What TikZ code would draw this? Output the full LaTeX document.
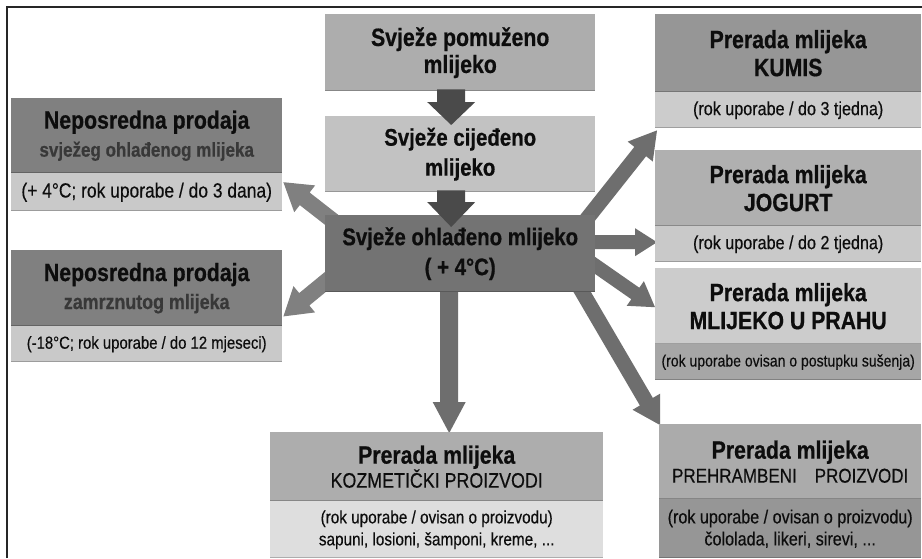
\documentclass[tikz,border=0pt]{standalone}
\usepackage{fontspec}
\setmainfont{Liberation Sans}[FakeStretch=0.85, UprightFeatures={FakeBold=0.35}, BoldFeatures={FakeBold=0.6}]
\usetikzlibrary{calc}
\pgfdeclarelayer{back}
\pgfsetlayers{back,main}
\definecolor{cA}{gray}{0.68}
\definecolor{cB}{gray}{0.76}
\definecolor{cC}{gray}{0.45}
\definecolor{cLh}{gray}{0.50}
\definecolor{cLs}{gray}{0.79}
\definecolor{cR1h}{gray}{0.59}
\definecolor{cR1s}{gray}{0.80}
\definecolor{cR2h}{gray}{0.69}
\definecolor{cR2s}{gray}{0.79}
\definecolor{cR3h}{gray}{0.80}
\definecolor{cR3s}{gray}{0.65}
\definecolor{cR4h}{gray}{0.67}
\definecolor{cR4s}{gray}{0.59}
\definecolor{cKh}{gray}{0.68}
\definecolor{cKs}{gray}{0.87}
\definecolor{cDown}{gray}{0.29}
\definecolor{cArr}{gray}{0.43}
\definecolor{cArrL}{gray}{0.50}
\definecolor{cSubT}{gray}{0.22}
\definecolor{cTxt}{gray}{0.05}
\newcommand{\ttlfont}{\fontsize{25}{28}\selectfont\bfseries}
\newcommand{\ttlfontK}{\fontsize{25}{24}\selectfont\bfseries}
\newcommand{\subfont}{\fontsize{19}{22}\selectfont}
\newcommand{\blkarrow}[6]{%
  \coordinate (bkH) at ($(#3)!#6!(#2)$);
  \fill[#1] ($(#2)!#4!90:(#3)$) -- ($(bkH)!#4!-90:(#2)$) -- ($(bkH)!#5!-90:(#2)$) -- (#3)
    -- ($(bkH)!#5!90:(#2)$) -- ($(bkH)!#4!90:(#2)$) -- ($(#2)!#4!-90:(#3)$) -- cycle;}
\tikzset{
  box/.style={rectangle, inner sep=0pt, anchor=north west, align=center, text=cTxt,
    path picture={\fill[black,opacity=0.22] ([yshift=1.6pt]path picture bounding box.south west) rectangle (path picture bounding box.south east);}},
  hdr/.style={box, font=\ttlfont},
  sub/.style={box, font=\subfont},
}
\begin{document}
\begin{tikzpicture}[x=1pt,y=-1pt]
\useasboundingbox (0,0) rectangle (922,558);
\draw[line width=1.4pt, black!85] (7,558) -- (7,7) -- (922,7);

% centre column
\node[hdr, fill=cA, minimum width=270pt, minimum height=77pt, font=\fontsize{25}{27}\selectfont\bfseries] (A) at (325,14) {Svježe pomuženo\\mlijeko};
\node[hdr, fill=cB, minimum width=270pt, minimum height=76pt, font=\fontsize{24}{30}\selectfont\bfseries] (B) at (325,116) {\rule{0pt}{14pt}Svježe cijeđeno\\mlijeko};
\node[hdr, fill=cC, minimum width=270pt, minimum height=77pt, font=\fontsize{24}{30}\selectfont\bfseries] (C) at (325,215) {Svježe ohlađeno mlijeko\\( + 4°C)};

% left
\node[hdr, fill=cLh, minimum width=271pt, minimum height=75pt] (L1) at (11,98) {Neposredna prodaja\\{\fontsize{20}{26}\selectfont\color{cSubT}svježeg ohlađenog mlijeka}};
\node[sub, fill=cLs, minimum width=271pt, minimum height=38pt, font=\fontsize{20.5}{24}\selectfont] (L1s) at (11,173) {(+ 4°C; rok uporabe / do 3 dana)};
\node[hdr, fill=cLh, minimum width=271pt, minimum height=76pt] (L2) at (11,250) {Neposredna prodaja\\{\fontsize{21}{26}\selectfont\color{cSubT}zamrznutog mlijeka}};
\node[sub, fill=cLs, minimum width=271pt, minimum height=36pt, font=\fontsize{17.5}{22}\selectfont] (L2s) at (11,326) {(-18°C; rok uporabe / do 12 mjeseci)};

% right
\node[hdr, fill=cR1h, minimum width=266pt, minimum height=78pt] (R1) at (655,14) {Prerada mlijeka\\KUMIS};
\node[sub, fill=cR1s, minimum width=266pt, minimum height=36pt] (R1s) at (655,92) {(rok uporabe / do 3 tjedna)};
\node[hdr, fill=cR2h, minimum width=266pt, minimum height=76pt] (R2) at (655,150) {Prerada mlijeka\\JOGURT};
\node[sub, fill=cR2s, minimum width=266pt, minimum height=36pt] (R2s) at (655,226) {(rok uporabe / do 2 tjedna)};
\node[hdr, fill=cR3h, minimum width=266pt, minimum height=76pt] (R3) at (655,268) {Prerada mlijeka\\MLIJEKO U PRAHU};
\node[box, font=\fontsize{16.5}{20}\selectfont, fill=cR3s, minimum width=266pt, minimum height=36pt] (R3s) at (655,344) {(rok uporabe ovisan o postupku sušenja)};
\node[box, font=\ttlfontK, fill=cR4h, minimum width=262pt, minimum height=75pt] (R4) at (659,424) {Prerada mlijeka\\{\fontsize{20}{24}\selectfont\mdseries PREHRAMBENI\hspace{18pt}PROIZVODI}};
\node[sub, fill=cR4s, minimum width=262pt, minimum height=59pt] (R4s) at (659,499) {(rok uporabe / ovisan o proizvodu)\\čololada, likeri, sirevi, ...};

% bottom
\node[box, font=\ttlfontK, fill=cKh, minimum width=333pt, minimum height=69pt] (K) at (270,432) {Prerada mlijeka\\{\fontsize{21}{24}\selectfont\mdseries KOZMETIČKI PROIZVODI}};
\node[sub, fill=cKs, minimum width=333pt, minimum height=57pt, font=\fontsize{18}{22}\selectfont] (Ks) at (270,501) {(rok uporabe / ovisan o proizvodu)\\sapuni, losioni, šamponi, kreme, ...};

% arrow end points
\coordinate (sAB) at ($(A.south)+(-9,-2)$);
\coordinate (tAB) at ($(B.north)+(-9,9)$);
\coordinate (sBC) at ($(B.south)+(-9,-2)$);
\coordinate (tBC) at ($(C.north)+(-9,12)$);
\coordinate (sK) at ($(C.south)+(-11,-6)$);
\coordinate (tK) at ($(K.north)+(12.5,1)$);
\coordinate (sL1) at ($(C.north west)+(12,9)$);
\coordinate (tL1) at ($(L1s.east)+(1,-10)$);
\coordinate (sL2) at ($(C.south west)+(12,-20)$);
\coordinate (tL2) at ($(L2.south east)+(1,-10)$);
\coordinate (sR1) at ($(C.north east)+(-15,12)$);
\coordinate (tR1) at ($(R1s.south west)+(2,2)$);
\coordinate (sR2) at ($(C.east)+(-10,-11.5)$);
\coordinate (tR2) at ($(R2s.west)+(2,-2)$);
\coordinate (sR3) at ($(C.east)+(-10,5)$);
\coordinate (tR3) at ($(R3.west)+(0,1)$);
\coordinate (sR4) at ($(C.south east)+(-20,-12)$);
\coordinate (tR4) at ($(R4.north west)+(1,1)$);

\begin{pgfonlayer}{back}
\fill[white] (0,0) rectangle (922,558);
\blkarrow{cArr}{sK}{tK}{9pt}{16.5pt}{31pt}
\blkarrow{cArrL}{sL1}{tL1}{8pt}{17pt}{27pt}
\blkarrow{cArrL}{sL2}{tL2}{8pt}{17pt}{27pt}
\blkarrow{cArr}{sR1}{tR1}{7.5pt}{16pt}{27pt}
\blkarrow{cArr}{sR2}{tR2}{7pt}{14pt}{22pt}
\blkarrow{cArr}{sR3}{tR3}{7pt}{15pt}{24pt}
\blkarrow{cArr}{sR4}{tR4}{7.5pt}{16pt}{27pt}
\end{pgfonlayer}
\blkarrow{cDown}{sAB}{tAB}{14pt}{24pt}{23pt}
\blkarrow{cDown}{sBC}{tBC}{14pt}{24pt}{25pt}
\end{tikzpicture}
\end{document}
